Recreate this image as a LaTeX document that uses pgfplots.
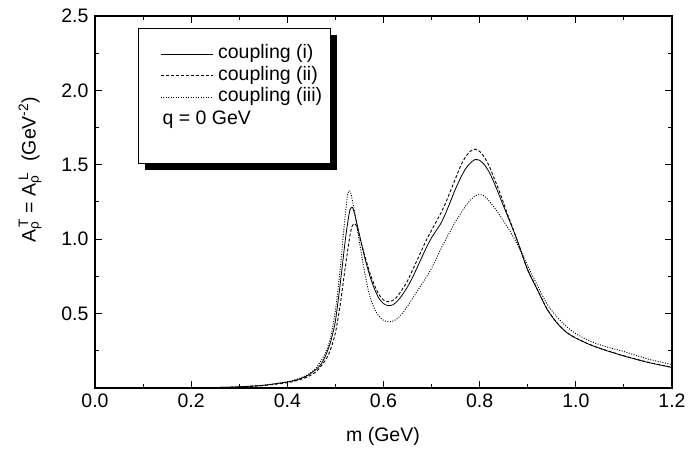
\documentclass[border=0pt]{standalone}
\usepackage{fontspec}
\setmainfont{Liberation Sans}
\usepackage{pgfplots}
\pgfplotsset{compat=1.18}

\pgfplotstableread{
x y
0.00 0.000
0.10 0.000
0.20 0.001
0.25 0.003
0.30 0.008
0.35 0.018
0.40 0.040
0.42 0.055
0.44 0.080
0.46 0.125
0.47 0.160
0.48 0.220
0.49 0.310
0.50 0.450
0.51 0.700
0.52 0.980
0.525 1.100
0.530 1.195
0.535 1.215
0.540 1.170
0.55 1.030
0.56 0.890
0.57 0.770
0.58 0.675
0.59 0.605
0.60 0.567
0.61 0.553
0.62 0.560
0.63 0.588
0.64 0.630
0.65 0.680
0.66 0.740
0.67 0.810
0.68 0.880
0.69 0.950
0.70 1.010
0.71 1.060
0.72 1.110
0.73 1.180
0.74 1.260
0.75 1.340
0.76 1.410
0.77 1.470
0.78 1.510
0.79 1.535
0.80 1.530
0.81 1.500
0.82 1.450
0.83 1.380
0.84 1.300
0.85 1.220
0.86 1.140
0.87 1.060
0.88 0.975
0.89 0.880
0.90 0.790
0.92 0.660
0.94 0.530
0.96 0.440
0.98 0.375
1.00 0.335
1.03 0.290
1.06 0.255
1.08 0.235
1.10 0.215
1.15 0.172
1.20 0.138
}\curveI

\pgfplotstableread{
x y
0.00 0.000
0.10 0.000
0.20 0.001
0.25 0.003
0.30 0.007
0.35 0.016
0.40 0.036
0.42 0.050
0.44 0.072
0.46 0.110
0.48 0.190
0.49 0.260
0.50 0.370
0.51 0.560
0.52 0.800
0.53 1.020
0.535 1.090
0.540 1.105
0.545 1.080
0.55 1.020
0.56 0.900
0.57 0.790
0.58 0.700
0.59 0.630
0.60 0.592
0.61 0.580
0.62 0.590
0.63 0.620
0.64 0.668
0.65 0.720
0.66 0.790
0.67 0.860
0.68 0.930
0.69 1.000
0.70 1.060
0.71 1.120
0.72 1.180
0.73 1.250
0.74 1.330
0.75 1.410
0.76 1.490
0.77 1.550
0.78 1.590
0.79 1.605
0.80 1.590
0.81 1.550
0.82 1.490
0.83 1.410
0.84 1.330
0.85 1.240
0.86 1.150
0.87 1.065
0.88 0.975
0.89 0.885
0.90 0.795
0.92 0.662
0.94 0.532
0.96 0.441
0.98 0.376
1.00 0.336
1.03 0.291
1.06 0.256
1.08 0.236
1.10 0.216
1.15 0.173
1.20 0.139
}\curveII

\pgfplotstableread{
x y
0.00 0.000
0.10 0.000
0.20 0.001
0.25 0.003
0.30 0.008
0.35 0.019
0.40 0.042
0.42 0.060
0.44 0.085
0.46 0.135
0.48 0.240
0.49 0.340
0.50 0.520
0.51 0.800
0.515 0.980
0.520 1.150
0.525 1.290
0.528 1.325
0.532 1.310
0.540 1.180
0.55 0.980
0.56 0.790
0.57 0.635
0.58 0.540
0.59 0.485
0.60 0.455
0.61 0.445
0.62 0.450
0.63 0.470
0.64 0.505
0.65 0.550
0.66 0.600
0.67 0.650
0.68 0.700
0.69 0.750
0.70 0.805
0.71 0.870
0.72 0.940
0.73 1.000
0.74 1.060
0.75 1.120
0.76 1.170
0.77 1.220
0.78 1.260
0.79 1.290
0.80 1.300
0.81 1.290
0.82 1.255
0.83 1.215
0.84 1.170
0.85 1.120
0.86 1.070
0.87 1.015
0.88 0.955
0.89 0.890
0.90 0.820
0.92 0.690
0.94 0.565
0.96 0.480
0.98 0.415
1.00 0.365
1.03 0.315
1.06 0.280
1.10 0.245
1.15 0.195
1.20 0.158
}\curveIII

\newcommand\fs{\fontsize{19.5bp}{23bp}\selectfont}

\begin{document}
\begin{tikzpicture}[font=\fs]
\path[use as bounding box] (0,0) rectangle (688bp,456bp);
% legend box with shadow
\fill[black] (145bp,286bp) rectangle (337bp,421bp);
\draw[fill=white, line width=0.8bp] (138bp,428bp) rectangle (330bp,293bp);
\begin{axis}[
  at={(95bp,68bp)}, anchor=south west,
  scale only axis, width=577bp, height=372bp,
  xmin=0, xmax=1.2, ymin=0, ymax=2.5,
  xtick={0,0.2,0.4,0.6,0.8,1.0,1.2},
  ytick={0.5,1.0,1.5,2.0,2.5},
  minor xtick={0.1,0.3,0.5,0.7,0.9,1.1},
  minor ytick={0.25,0.75,1.25,1.75,2.25},
  tick align=inside,
  major tick length=7bp, minor tick length=4bp,
  axis line style={line width=1.2bp},
  every tick/.style={black, line width=1bp},
  tick label style={font=\fs},
  /pgf/number format/.cd, fixed, fixed zerofill, precision=1, assume math mode=true,
  /pgfplots/.cd,
  xticklabel style={yshift=-2bp},
  yticklabel style={xshift=-3bp},
  legend style={at={(0.1127,0.9227)}, anchor=north west, draw=none, fill=none,
    inner sep=0pt, row sep=3bp, font=\fs,
    nodes={inner sep=0pt, text height=14bp, text depth=4.5bp}},
  legend cell align=left,
  legend image code/.code={\draw[#1] (0bp,0bp) -- (52bp,0bp);},
]
\addplot[black, line width=0.8bp, smooth, tension=0.4] table {\curveI};
\addlegendentry{\hspace{5bp}coupling (i)}
\addplot[black, line width=0.9bp, dash pattern=on 3bp off 2bp, smooth, tension=0.4] table {\curveII};
\addlegendentry{\hspace{5bp}coupling (ii)}
\addplot[black, line width=0.9bp, dash pattern=on 1bp off 1.5bp, smooth, tension=0.4] table {\curveIII};
\addlegendentry{\hspace{5bp}coupling (iii)}
\end{axis}
\node[anchor=base west] at (159bp,331bp) {q = 0 GeV};
\node at (383bp,20bp) {m (GeV)};
\node[rotate=90] at (30bp,286bp) {A\rlap{\textsubscript{ρ}}\textsuperscript{\hspace{0.2em}T} = A\rlap{\textsubscript{ρ}}\textsuperscript{\hspace{0.2em}L}\hspace{0.55em}(GeV\textsuperscript{-2})};
\end{tikzpicture}
\end{document}
